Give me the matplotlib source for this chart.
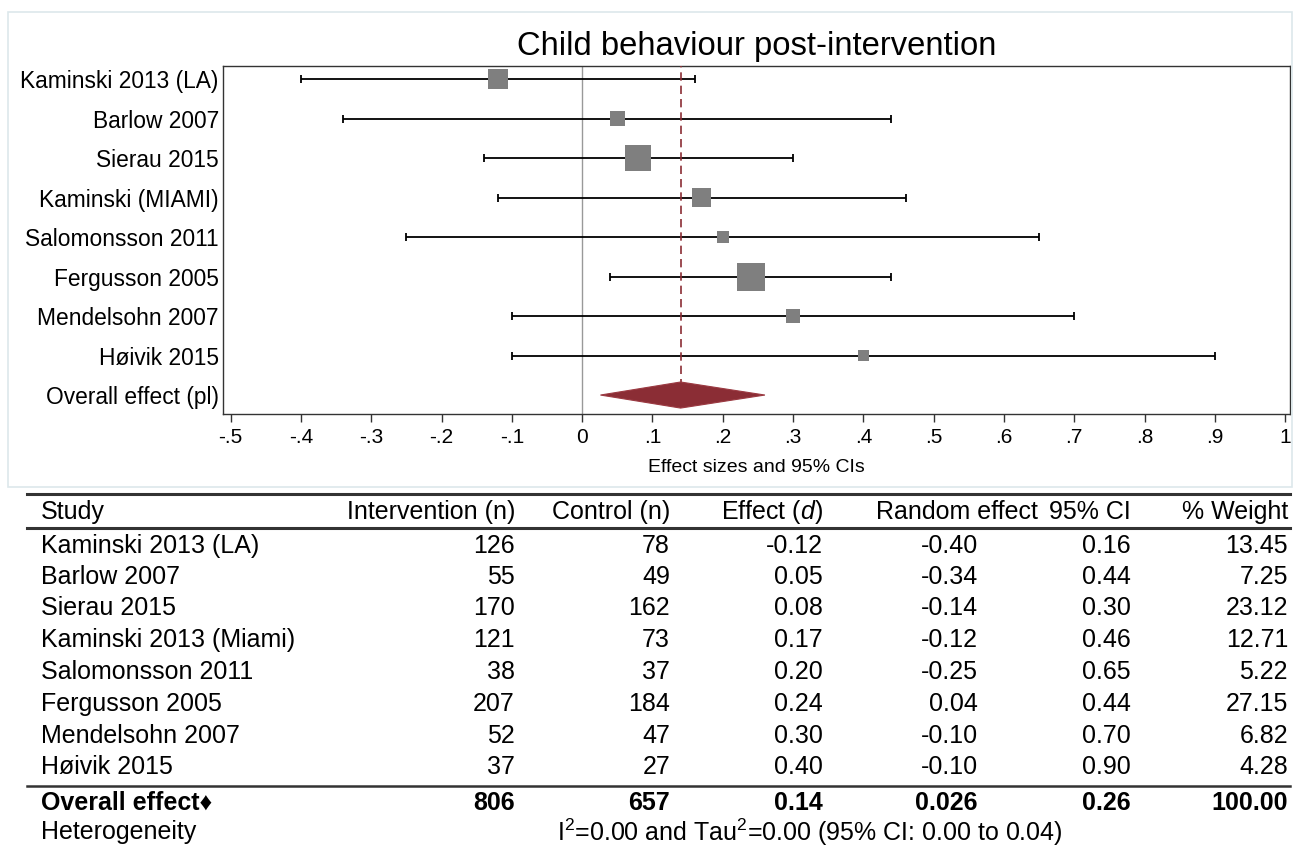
import matplotlib
matplotlib.use("Agg")
import matplotlib.pyplot as plt
from matplotlib.patches import Polygon, Rectangle

plt.rcParams['font.family'] = ['Liberation Sans', 'DejaVu Sans']
plt.rcParams['mathtext.fontset'] = 'custom'
plt.rcParams['mathtext.rm'] = 'Liberation Sans'
plt.rcParams['mathtext.it'] = 'Liberation Sans:italic'

# ---- data ----
plot_labels = ["Kaminski 2013 (LA)", "Barlow 2007", "Sierau 2015", "Kaminski (MIAMI)",
               "Salomonsson 2011", "Fergusson 2005", "Mendelsohn 2007", "Høivik 2015",
               "Overall effect (pl)"]
table_studies = ["Kaminski 2013 (LA)", "Barlow 2007", "Sierau 2015", "Kaminski 2013 (Miami)",
                 "Salomonsson 2011", "Fergusson 2005", "Mendelsohn 2007", "Høivik 2015"]
n_int = [126, 55, 170, 121, 38, 207, 52, 37]
n_ctrl = [78, 49, 162, 73, 37, 184, 47, 27]
effects = [-0.12, 0.05, 0.08, 0.17, 0.20, 0.24, 0.30, 0.40]
ci_low = [-0.40, -0.34, -0.14, -0.12, -0.25, 0.04, -0.10, -0.10]
ci_high = [0.16, 0.44, 0.30, 0.46, 0.65, 0.44, 0.70, 0.90]
weights = [13.45, 7.25, 23.12, 12.71, 5.22, 27.15, 6.82, 4.28]
overall_n_int = 806
overall_n_ctrl = 657
overall_eff = 0.14
overall_low = 0.026
overall_high = 0.26
overall_weight = 100.00
xticks = [-0.5, -0.4, -0.3, -0.2, -0.1, 0, 0.1, 0.2, 0.3, 0.4, 0.5, 0.6, 0.7, 0.8, 0.9, 1.0]
xtick_labels = ["-.5", "-.4", "-.3", "-.2", "-.1", "0", ".1", ".2", ".3", ".4", ".5",
                ".6", ".7", ".8", ".9", "1"]

W, H = 1294, 847
fig = plt.figure(figsize=(W / 100, H / 100), dpi=100)


def fx(x):
    return x / W


def fy(y):
    return 1 - y / H


# light frame round the graph part
fig.patches.append(Rectangle((fx(8), fy(487)), fx(1284), (487 - 12) / H, transform=fig.transFigure,
                             fill=False, edgecolor='#dde8eb', lw=1.2))

# ---- forest plot ----
ax = fig.add_axes([fx(223), fy(414), fx(1290 - 223), (414 - 66) / H])
rows = list(range(len(effects)))
ax.axvline(0, color='#999999', lw=1, zorder=1)
ax.plot([overall_eff, overall_eff], [-0.5, len(effects)], color='#8b2d35', lw=1.2,
        ls=(0, (5, 3)), zorder=4)
ax.errorbar(effects, rows, xerr=[[e - l for e, l in zip(effects, ci_low)],
                                 [h - e for e, h in zip(effects, ci_high)]],
            fmt='none', ecolor='black', elinewidth=1.3, capsize=3, capthick=1.3, zorder=2)
ax.scatter(effects, rows, s=[15 * w for w in weights], marker='s', color='#7f7f7f',
           edgecolors='none', zorder=3)
yo = len(effects)
ax.add_patch(Polygon([[overall_low, yo], [overall_eff, yo - 0.33], [overall_high, yo],
                      [overall_eff, yo + 0.33]], closed=True, facecolor='#8b2d35',
                     edgecolor='#9b3a42', lw=0.8, zorder=5))
ax.set_xlim(-0.511, 1.007)
ax.set_ylim(8.48, -0.33)
ax.set_xticks(xticks)
ax.set_xticklabels(xtick_labels, fontsize=15)
ax.set_yticks(list(range(len(plot_labels))))
ax.set_yticklabels(plot_labels, fontsize=16.4)
ax.tick_params(axis='y', length=0, pad=3)
ax.tick_params(axis='x', length=6, width=1, pad=4, color='#333333')
for sp in ax.spines.values():
    sp.set_linewidth(1)
    sp.set_color('#333333')
ax.set_xlabel("Effect sizes and 95% CIs", fontsize=14, labelpad=9)
fig.text(fx(757), fy(47), "Child behaviour post-intervention", fontsize=23.6,
         ha='center', va='center')

# ---- table ----
fs = 18
col_right = [515, 670, 823, 978, 1131, 1288]
for y, lw in [(494, 2.2), (528, 2.2), (786, 1.8)]:
    fig.add_artist(plt.Line2D([fx(27), fx(1290)], [fy(y), fy(y)], color='#333333', lw=lw,
                              transform=fig.transFigure))

hy = 512
fig.text(fx(41), fy(hy), "Study", fontsize=fs, va='center')
fig.text(fx(515), fy(hy), "Intervention (n)", fontsize=fs, va='center', ha='right')
fig.text(fx(670), fy(hy), "Control (n)", fontsize=fs, va='center', ha='right')
fig.text(fx(823), fy(hy), r"Effect ($\mathit{d}$)", fontsize=fs, va='center', ha='right')
fig.text(fx(876), fy(hy), "Random effect", fontsize=fs, va='center', ha='left')
fig.text(fx(1131), fy(hy), "95% CI", fontsize=fs, va='center', ha='right')
fig.text(fx(1288), fy(hy), "% Weight", fontsize=fs, va='center', ha='right')

row_y = [546, 577, 608, 640, 672, 704, 736, 767]
for i, y in enumerate(row_y):
    vals = [str(n_int[i]), str(n_ctrl[i]), f"{effects[i]:.2f}", f"{ci_low[i]:.2f}",
            f"{ci_high[i]:.2f}", f"{weights[i]:.2f}"]
    fig.text(fx(41), fy(y), table_studies[i], fontsize=fs, va='center')
    for x, v in zip(col_right, vals):
        fig.text(fx(x), fy(y), v, fontsize=fs, va='center', ha='right')

oy = 803
fig.text(fx(41), fy(oy), "Overall effect\u2666", fontsize=fs, va='center', fontweight='bold')
ovals = [str(overall_n_int), str(overall_n_ctrl), f"{overall_eff:.2f}", f"{overall_low:.3f}",
         f"{overall_high:.2f}", f"{overall_weight:.2f}"]
for x, v in zip(col_right, ovals):
    fig.text(fx(x), fy(oy), v, fontsize=fs, va='center', ha='right', fontweight='bold')

fig.text(fx(41), fy(832), "Heterogeneity", fontsize=fs, va='center')
fig.text(fx(810), fy(832), r"I$^2$=0.00 and Tau$^2$=0.00 (95% CI: 0.00 to 0.04)",
         fontsize=fs, va='center', ha='center')

fig.savefig("out.png", dpi=100, facecolor='white')
